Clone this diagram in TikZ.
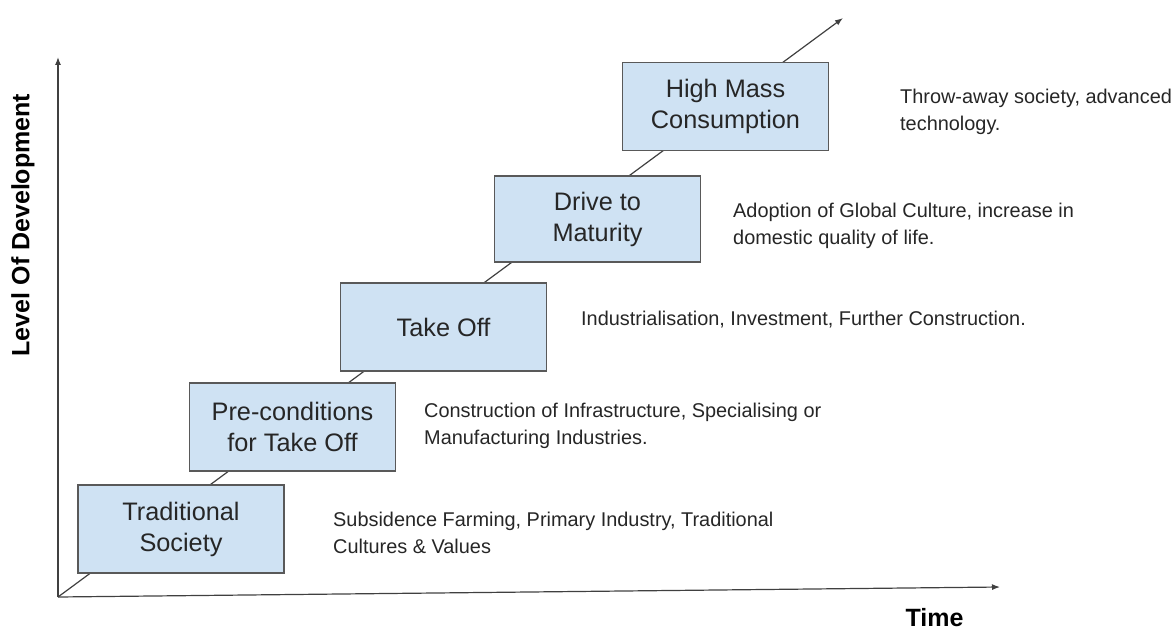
\documentclass[tikz,border=0pt]{standalone}
\usepackage{fontspec}
\setmainfont{Liberation Sans}
\usetikzlibrary{arrows.meta}
\definecolor{boxfill}{HTML}{CFE2F3}
\definecolor{boxline}{HTML}{595959}
\definecolor{axisline}{HTML}{404040}
\tikzset{
  stage/.style={draw=boxline, line width=1.4pt, fill=boxfill, minimum width=206pt, minimum height=88pt,
    align=center, font=\fontsize{25.3}{31}\selectfont, text=black!85, inner sep=0pt},
  desc/.style={anchor=west, align=left, inner sep=0pt, font=\fontsize{19.9}{27}\selectfont, text=black!85},
  axlabel/.style={inner sep=0pt, font=\bfseries\fontsize{25}{30}\selectfont},
  axis/.style={draw=axisline, line width=1.2pt, -{Latex[length=8pt,width=6pt]}},
}
\begin{document}
\begin{tikzpicture}[x=1pt,y=-1pt]
\useasboundingbox (0,0) rectangle (1174,631);
\coordinate (O) at (58,597);
\coordinate (ytip) at (58,57);
\coordinate (xtip) at (1000,587);
\coordinate (dtip) at (843,18);
\draw[axis] (O) -- (ytip);
\draw[axis] (O) -- (xtip);
\draw[axis] (O) -- (dtip);

\node[stage] (s1) at (181,529) {Traditional\\Society};
\node[stage] (s2) at (292.5,427) {Pre-conditions\\for Take Off};
\node[stage] (s3) at (443.5,327) {Take Off};
\node[stage, minimum height=86pt] (s4) at (597.5,219) {Drive to\\Maturity};
\node[stage] (s5) at (725.5,106.5) {High Mass\\Consumption};

\node[desc] (d1) at (333,533) {Subsidence Farming, Primary Industry, Traditional\\Cultures \& Values};
\node[desc] (d2) at (424,426) {Construction of Infrastructure, Specialising or\\Manufacturing Industries.};
\node[desc] (d3) at (581,320) {Industrialisation, Investment, Further Construction.};
\node[desc] (d4) at (733,226) {Adoption of Global Culture, increase in\\domestic quality of life.};
\node[desc] (d5) at (900,111.5) {Throw-away society, advanced\\technology.};

\node[axlabel, rotate=90] (ylab) at (23,225) {Level Of Development};
\node[axlabel] (xlab) at (934.5,618) {Time};
\end{tikzpicture}
\end{document}
